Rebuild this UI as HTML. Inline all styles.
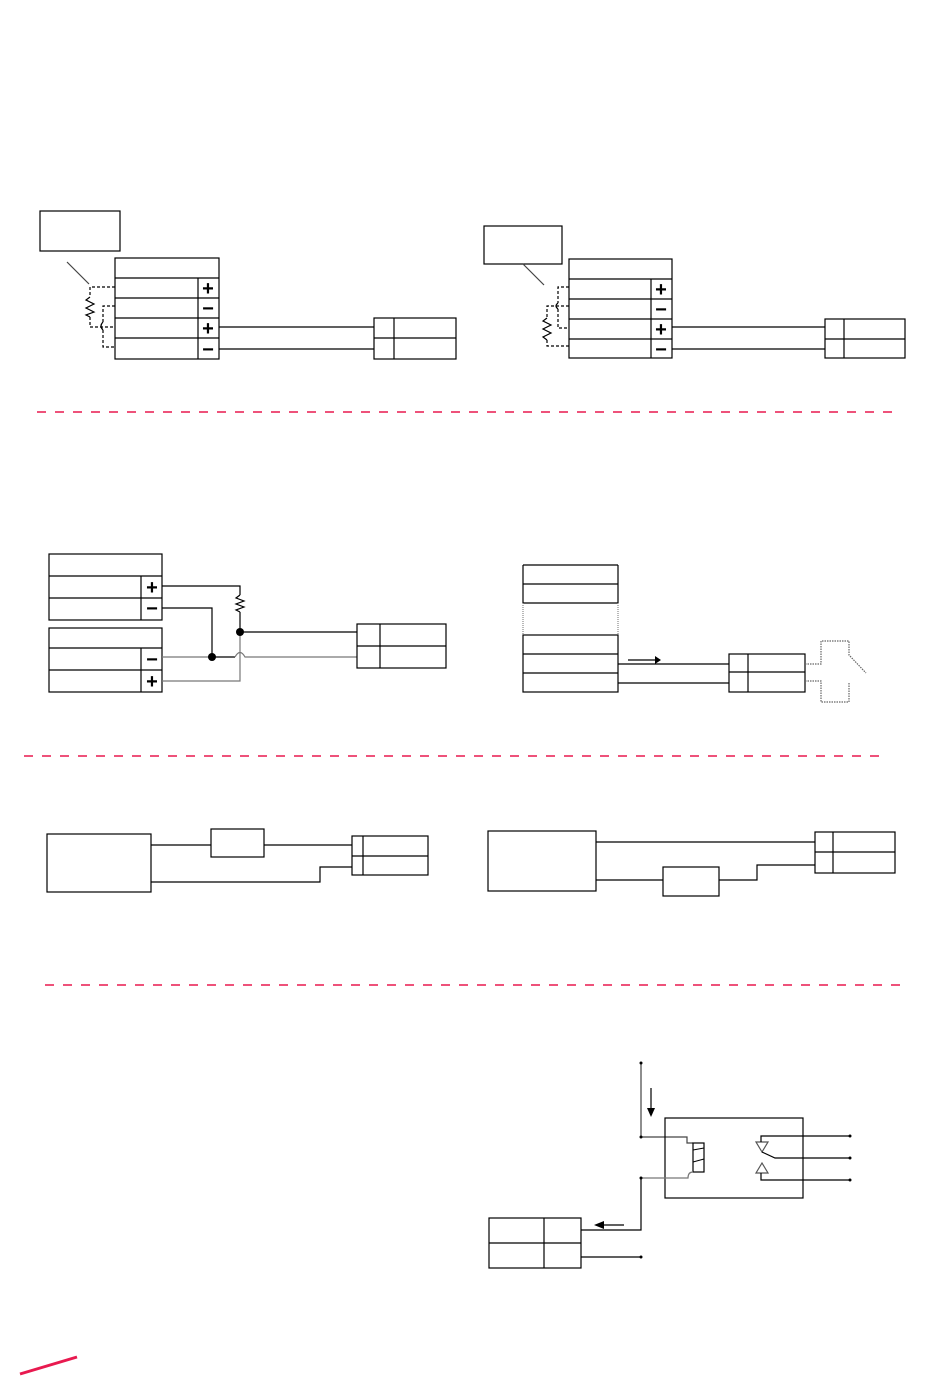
<!DOCTYPE html>
<html><head><meta charset="utf-8"><style>html,body{margin:0;padding:0;background:#fff}svg{display:block}</style></head>
<body>
<svg width="950" height="1383" viewBox="0 0 950 1383" xmlns="http://www.w3.org/2000/svg" font-family="Liberation Sans, sans-serif">
<g fill="none" stroke="#000" stroke-width="1.2">
<!-- Diagram 1 left -->
<rect x="40" y="211" width="80" height="40"/>
<rect x="115" y="258" width="104" height="101"/>
<path d="M115 278H219M115 298H219M115 318H219M115 338H219M198 278V359"/>
<path d="M219 327H374M219 349H374"/>
<rect x="374" y="318" width="82" height="41"/>
<path d="M374 338H456M394 318V359"/>
<path d="M67 262L89 284" stroke="#444"/>
<path d="M115 287H90V297M90 317V327H115" stroke-dasharray="3,2"/>
<path d="M90 297L86 300L94 304L86 308L94 312L86 315L90 317"/>
<path d="M115 306H103V322M103 330V347H115" stroke-dasharray="3,2"/>
<path d="M103 322Q99 326 103 330"/>
<!-- Diagram 1 right -->
<rect x="484" y="226" width="78" height="38"/>
<rect x="569" y="259" width="103" height="99"/>
<path d="M569 279H672M569 299H672M569 319H672M569 339H672M651 279V358"/>
<path d="M672 327H825M672 349H825"/>
<rect x="825" y="319" width="80" height="39"/>
<path d="M825 339H905M844 319V358"/>
<path d="M523 264L544 285" stroke="#444"/>
<path d="M569 287H558V303M558 309V328H569" stroke-dasharray="3,2"/>
<path d="M558 303Q554 306 558 309"/>
<path d="M569 306H547V318M547 340V346H569" stroke-dasharray="3,2"/>
<path d="M547 318L543 321L551 325L543 329L551 333L543 337L547 340"/>
<!-- Diagram 2 left -->
<rect x="49" y="554" width="113" height="66"/>
<path d="M49 576H162M49 598H162M141 576V620"/>
<rect x="49" y="628" width="113" height="64"/>
<path d="M49 648H162M49 670H162M141 648V692"/>
<path d="M162 586H240V595M240 612V632H357"/>
<path d="M240 595L236 598L244 601L236 604L244 607L236 610L240 612"/>
<path d="M162 608H212V657"/>
<path d="M162 657H212" stroke="#777"/>
<path d="M212 657H235" />
<path d="M235 657Q240 648 245 657H357" stroke="#777"/>
<path d="M240 632V681H162" stroke="#777"/>
<rect x="357" y="624" width="89" height="44"/>
<path d="M357 646H446M380 624V668"/>
<!-- Diagram 2 right -->
<path d="M523 565H618M523 584H618M523 603H618M523 565V603M618 565V603"/>
<path d="M523 603V635M618 603V635" stroke="#888" stroke-dasharray="1,1"/>
<rect x="523" y="635" width="95" height="57"/>
<path d="M523 654H618M523 673H618"/>
<path d="M618 664H729M618 683H729"/>
<path d="M628 660H655"/>
<rect x="729" y="654" width="76" height="38"/>
<path d="M729 672H805M748 654V692"/>
<path d="M805 664H821V641H849V655L866 673M805 681H821V702H849V683" stroke="#666" stroke-dasharray="1.5,1"/>
<!-- Diagram 3 left -->
<rect x="47" y="834" width="104" height="58"/>
<rect x="211" y="829" width="53" height="28"/>
<path d="M151 845H211M264 845H352M151 882H320V867H352"/>
<rect x="352" y="836" width="76" height="39"/>
<path d="M352 856H428M363 836V875"/>
<!-- Diagram 3 right -->
<rect x="488" y="831" width="108" height="60"/>
<rect x="663" y="867" width="56" height="29"/>
<path d="M596 842H815M596 880H663M719 880H757V865H815"/>
<rect x="815" y="832" width="80" height="41"/>
<path d="M815 852H895M833 832V873"/>
<!-- Diagram 4 -->
<path d="M641 1063V1137H687V1143H693" stroke="#444"/>
<path d="M651 1088V1110"/>
<rect x="665" y="1118" width="138" height="80"/>
<rect x="693" y="1143" width="11" height="29"/>
<path d="M693 1150L704 1148M693 1162L704 1159" stroke-width="1"/>
<path d="M641 1178H688Q688 1172 693 1172" stroke="#777"/>
<path d="M641 1178V1230H581"/>
<path d="M604 1225H624"/>
<rect x="489" y="1218" width="92" height="50"/>
<path d="M489 1243H581M544 1218V1268"/>
<path d="M581 1257H641"/>
<path d="M756 1142H768L762 1152Z M756 1173H768L762 1163Z" stroke="#555"/>
<path d="M761 1142V1136H850M762 1152L775 1158H850M761 1173V1180H850"/>
</g>
<g fill="#000">
<circle cx="212" cy="657" r="4"/><circle cx="240" cy="632" r="4"/>
<path d="M655 656L661 660L655 664Z"/>
<path d="M647 1108H655L651 1117Z"/>
<path d="M604 1221L594 1225L604 1229Z"/>
<circle cx="641" cy="1063" r="1.5"/><circle cx="641" cy="1137" r="1.5"/><circle cx="641" cy="1178" r="1.5"/><circle cx="641" cy="1257" r="1.5"/>
<circle cx="850" cy="1136" r="1.5"/><circle cx="850" cy="1158" r="1.5"/><circle cx="850" cy="1180" r="1.5"/>
</g>
<g font-weight="bold" font-size="20" text-anchor="middle">
<text x="208" y="295">+</text><text x="208" y="315">−</text><text x="208" y="335">+</text><text x="208" y="356">−</text>
<text x="661" y="296">+</text><text x="661" y="316">−</text><text x="661" y="336">+</text><text x="661" y="356">−</text>
<text x="152" y="594">+</text><text x="152" y="615">−</text><text x="152" y="666">−</text><text x="152" y="688">+</text>
</g>
<g stroke="#e8194f" stroke-width="1.5" stroke-dasharray="9,9">
<path d="M37 412H893M24 756H880M45 985H903"/>
</g>
<path d="M20 1374L77 1357" stroke="#e8194f" stroke-width="3"/>
</svg>
</body></html>
